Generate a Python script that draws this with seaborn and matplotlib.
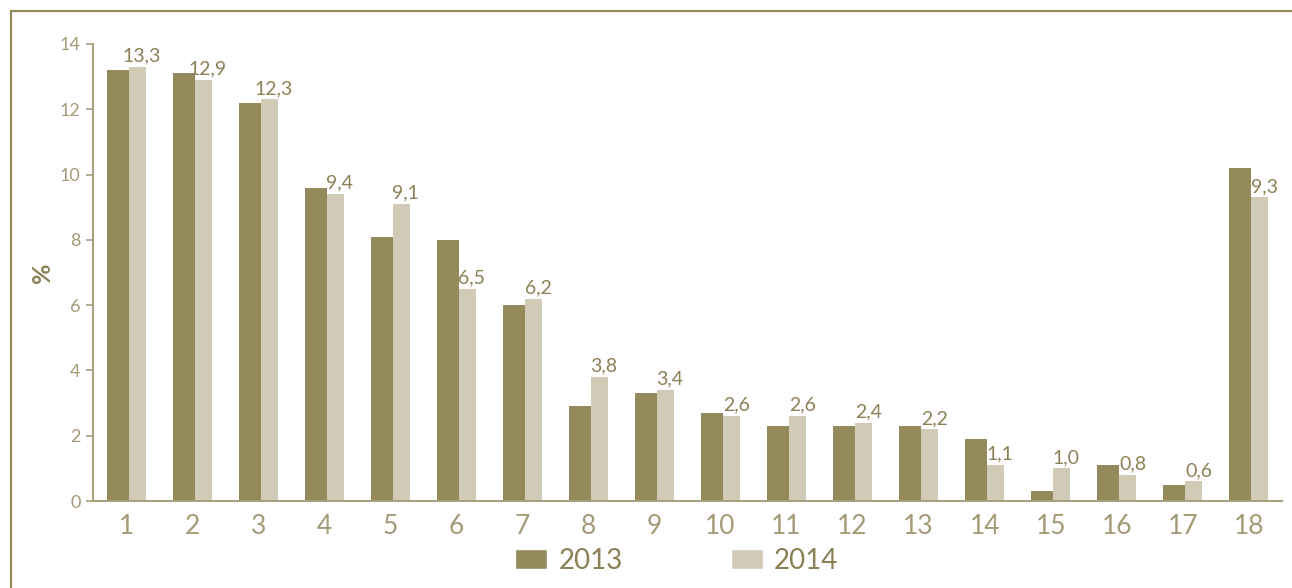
import matplotlib
matplotlib.use("Agg")
import matplotlib.pyplot as plt
import seaborn as sns
import pandas as pd
import numpy as np
from matplotlib.lines import Line2D

categories = [str(i) for i in range(1, 19)]
values_2013 = [13.2, 13.1, 12.2, 9.6, 8.1, 8.0, 6.0, 2.9, 3.3, 2.7, 2.3, 2.3, 2.3, 1.9, 0.3, 1.1, 0.5, 10.2]
values_2014 = [13.3, 12.9, 12.3, 9.4, 9.1, 6.5, 6.2, 3.8, 3.4, 2.6, 2.6, 2.4, 2.2, 1.1, 1.0, 0.8, 0.6, 9.3]
series = ["2013", "2014"]
y_ticks = [0, 2, 4, 6, 8, 10, 12, 14]

df = pd.DataFrame({
    "cat": categories * 2,
    "year": ["2013"] * len(categories) + ["2014"] * len(categories),
    "val": values_2013 + values_2014,
})

sns.set_style("white")
plt.rcParams["font.family"] = ["Lato", "DejaVu Sans"]

dark = "#948A5C"
light = "#D0CAB6"
text_dark = "#8C8056"
text_light = "#A39A78"
axis_col = "#A89E7C"

fig = plt.figure(figsize=(12.92, 5.88), dpi=100)
ax = fig.add_axes([93/1292, 1 - 501/588, (1282-93)/1292, (501-44)/588])

sns.barplot(data=df, x="cat", y="val", hue="year", order=categories, hue_order=series,
            palette=[dark, light], width=0.6, ax=ax, legend=True, saturation=1)

# adjust bar widths (2013 slightly wider than 2014 as in reference)
left_off = -0.295
w13, w14 = 0.333, 0.257
for i, p in enumerate(ax.containers[0]):
    p.set_x(i + left_off)
    p.set_width(w13)
    p.set_edgecolor("none")
for i, p in enumerate(ax.containers[1]):
    p.set_x(i + left_off + w13)
    p.set_width(w14)
    p.set_edgecolor("none")

for i, p in enumerate(ax.containers[1]):
    v = values_2014[i]
    cx = p.get_x() + p.get_width() / 2 + 0.07
    ax.text(cx, v + 0.07, f"{v:.1f}".replace(".", ","), ha="center", va="bottom",
            fontsize=14, color=text_dark, fontweight="normal")

ax.set_xlim(-0.5, len(categories) - 0.5)
ax.set_ylim(0, 14)
ax.set_yticks(y_ticks)
ax.set_yticklabels([str(t) for t in y_ticks], fontsize=13, color=text_light)
ax.set_xticks(range(len(categories)))
ax.set_xticklabels(categories, fontsize=19, color=text_light)
ax.set_xticks(np.arange(-0.5, len(categories), 1.0), minor=True)
ax.tick_params(axis="x", which="major", length=0, pad=9)
ax.tick_params(axis="x", which="minor", length=7, width=1.3, color=axis_col, direction="out")
ax.tick_params(axis="y", which="major", length=5, width=1.2, color=axis_col, direction="out", left=True, pad=4)
ax.set_xlabel("")
ax.set_ylabel("%", fontsize=18, fontweight="bold", color=text_dark, labelpad=4, rotation=90)

for s in ["top", "right"]:
    ax.spines[s].set_visible(False)
for s in ["left", "bottom"]:
    ax.spines[s].set_color(axis_col)
    ax.spines[s].set_linewidth(1.4)

leg = ax.legend(loc="center", bbox_to_anchor=(677/1292, 1 - 561/588), bbox_transform=fig.transFigure,
                ncol=2, frameon=False, fontsize=20, handlelength=1.15, handleheight=0.75,
                columnspacing=3.9, handletextpad=0.4)
for t in leg.get_texts():
    t.set_color(text_dark)

# outer frame lines
fig.add_artist(Line2D([11/1292, 11/1292], [1 - 11/588, 0], transform=fig.transFigure, color=dark, lw=1.6))
fig.add_artist(Line2D([11/1292, 1], [1 - 11/588, 1 - 11/588], transform=fig.transFigure, color=dark, lw=1.6))

fig.savefig("out.png", dpi=100)
